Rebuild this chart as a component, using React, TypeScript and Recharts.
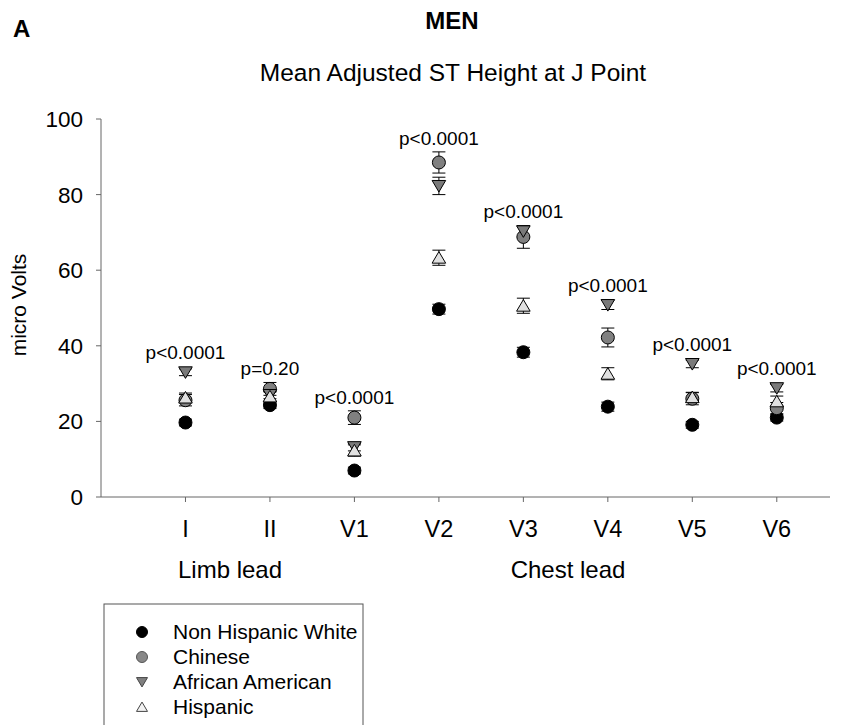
import React from 'react';
import { ScatterChart, Scatter, XAxis, YAxis, ErrorBar } from 'recharts';

const leads = ['I', 'II', 'V1', 'V2', 'V3', 'V4', 'V5', 'V6'];
const pValues = ['p<0.0001', 'p=0.20', 'p<0.0001', 'p<0.0001', 'p<0.0001', 'p<0.0001', 'p<0.0001', 'p<0.0001'];
const yTicks = [0, 20, 40, 60, 80, 100];

const nhw = [19.7, 24.3, 7.0, 49.7, 38.3, 23.9, 19.1, 21.0];
const nhwErr = [0.9, 0.9, 0.9, 1.3, 1.3, 1.2, 0.9, 0.9];
const chinese = [25.6, 28.6, 21.0, 88.5, 68.8, 42.2, 26.0, 23.5];
const chineseErr = [1.5, 1.7, 1.8, 2.8, 3.0, 2.5, 1.6, 1.5];
const africanAmerican = [33.0, 27.0, 13.2, 82.3, 70.3, 50.8, 35.2, 28.8];
const africanAmericanErr = [0.9, 1.0, 1.0, 2.3, 1.5, 1.2, 1.0, 1.0];
const hispanic = [26.3, 26.6, 12.3, 63.3, 50.6, 32.6, 26.4, 25.3];
const hispanicErr = [1.2, 1.2, 1.5, 2.0, 2.0, 1.6, 1.3, 1.4];

const FONT = 'Liberation Sans, Arial, sans-serif';

const toRows = (vals: number[], errs: number[]) =>
  vals.map((v, i) => ({ x: i + 1, y: v, err: errs[i] }));

const nhwData = toRows(nhw, nhwErr);
const chineseData = toRows(chinese, chineseErr);
const aaData = toRows(africanAmerican, africanAmericanErr);
const hispData = toRows(hispanic, hispanicErr);

const pData = leads.map((_, i) => {
  const tops = [
    [nhw[i], nhwErr[i]],
    [chinese[i], chineseErr[i]],
    [africanAmerican[i], africanAmericanErr[i]],
    [hispanic[i], hispanicErr[i]],
  ].map(([v, e]) => v + Math.max(e, 1.6));
  return { x: i + 1, y: Math.max(...tops), label: pValues[i] };
});

const Circle = (fill: string, r = 6.5) => (props: any) => {
  const { cx, cy } = props;
  if (cx == null || cy == null) return <g />;
  return <circle cx={cx} cy={cy} r={r} fill={fill} stroke="#000" strokeWidth={1} />;
};

const TriDown = (fill: string, s = 6.8) => (props: any) => {
  const { cx, cy } = props;
  if (cx == null || cy == null) return <g />;
  const pts = `${cx - s},${cy - s * 0.8} ${cx + s},${cy - s * 0.8} ${cx},${cy + s * 0.9}`;
  return <polygon points={pts} fill={fill} stroke="#000" strokeWidth={1} />;
};

const TriUp = (fill: string, s = 6.8) => (props: any) => {
  const { cx, cy } = props;
  if (cx == null || cy == null) return <g />;
  const pts = `${cx - s},${cy + s * 0.8} ${cx + s},${cy + s * 0.8} ${cx},${cy - s * 0.9}`;
  return <polygon points={pts} fill={fill} stroke="#000" strokeWidth={1} />;
};

const PLabel = (props: any) => {
  const { cx, cy, payload } = props;
  if (cx == null || cy == null) return <g />;
  return (
    <text x={cx} y={cy - 7} textAnchor="middle" fontSize={19} fontFamily={FONT} fill="#000">
      {payload.label}
    </text>
  );
};

const legendItems = [
  { name: 'Non Hispanic White', kind: 'circle', fill: '#000' },
  { name: 'Chinese', kind: 'circle', fill: '#888' },
  { name: 'African American', kind: 'down', fill: '#808080' },
  { name: 'Hispanic', kind: 'up', fill: '#f2f2f2' },
];

const LegendMarker = ({ kind, fill, x, y }: any) => {
  const s = 5.5;
  if (kind === 'circle') return <circle cx={x} cy={y} r={5.5} fill={fill} stroke={fill === '#000' ? '#000' : '#555'} />;
  if (kind === 'down')
    return <polygon points={`${x - s},${y - s * 0.8} ${x + s},${y - s * 0.8} ${x},${y + s * 0.9}`} fill={fill} stroke="#444" />;
  return <polygon points={`${x - s},${y + s * 0.8} ${x + s},${y + s * 0.8} ${x},${y - s * 0.9}`} fill={fill} stroke="#444" />;
};

export default function App() {
  return (
    <div style={{ position: 'absolute', left: 0, top: 0, width: 850, height: 725, background: '#fff' }}>
      <ScatterChart width={850} height={725} margin={{ top: 119, right: 20, bottom: 168, left: 11 }}>
        <XAxis
          type="number"
          dataKey="x"
          domain={[0, 8.63]}
          ticks={[1, 2, 3, 4, 5, 6, 7, 8]}
          tickFormatter={(v: number) => leads[v - 1]}
          height={60}
          allowDataOverflow
          stroke="#666"
          tickSize={5}
          tickMargin={18}
          tick={{ fill: '#000', fontSize: 23.5, fontFamily: FONT }}
        />
        <YAxis
          type="number"
          dataKey="y"
          domain={[0, 100]}
          ticks={yTicks}
          width={90}
          stroke="#666"
          tickSize={5}
          tickMargin={13}
          tick={{ fill: '#000', fontSize: 22.5, fontFamily: FONT }}
        />
        <Scatter data={nhwData} shape={Circle('#000')} isAnimationActive={false}>
          <ErrorBar dataKey="err" direction="y" width={6.5} stroke="#000" strokeWidth={1} />
        </Scatter>
        <Scatter data={chineseData} shape={Circle('#808080')} isAnimationActive={false}>
          <ErrorBar dataKey="err" direction="y" width={6.5} stroke="#000" strokeWidth={1} />
        </Scatter>
        <Scatter data={aaData} shape={TriDown('#7a7a7a')} isAnimationActive={false}>
          <ErrorBar dataKey="err" direction="y" width={6.5} stroke="#000" strokeWidth={1} />
        </Scatter>
        <Scatter data={hispData} shape={TriUp('#e0e0e0')} isAnimationActive={false}>
          <ErrorBar dataKey="err" direction="y" width={6.5} stroke="#000" strokeWidth={1} />
        </Scatter>
        <Scatter data={pData} shape={PLabel} isAnimationActive={false} />

        <text x={13} y={37} fontSize={24} fontWeight="bold" fontFamily={FONT}>A</text>
        <text x={452} y={29} textAnchor="middle" fontSize={24} fontWeight="bold" fontFamily={FONT}>MEN</text>
        <text x={453} y={81} textAnchor="middle" fontSize={24.5} fontFamily={FONT}>Mean Adjusted ST Height at J Point</text>
        <text x={0} y={0} transform="translate(26,305) rotate(-90)" textAnchor="middle" fontSize={21} fontFamily={FONT}>micro Volts</text>
        <text x={230} y={578} textAnchor="middle" fontSize={24} fontFamily={FONT}>Limb lead</text>
        <text x={568} y={578} textAnchor="middle" fontSize={24} fontFamily={FONT}>Chest lead</text>

        <rect x={104} y={604} width={259} height={200} fill="none" stroke="#555" strokeWidth={1} />
        {legendItems.map((it, i) => (
          <g key={it.name}>
            <LegendMarker kind={it.kind} fill={it.fill} x={142} y={632 + i * 25} />
            <text x={173} y={639 + i * 25} fontSize={21} fontFamily={FONT}>{it.name}</text>
          </g>
        ))}
      </ScatterChart>
    </div>
  );
}
